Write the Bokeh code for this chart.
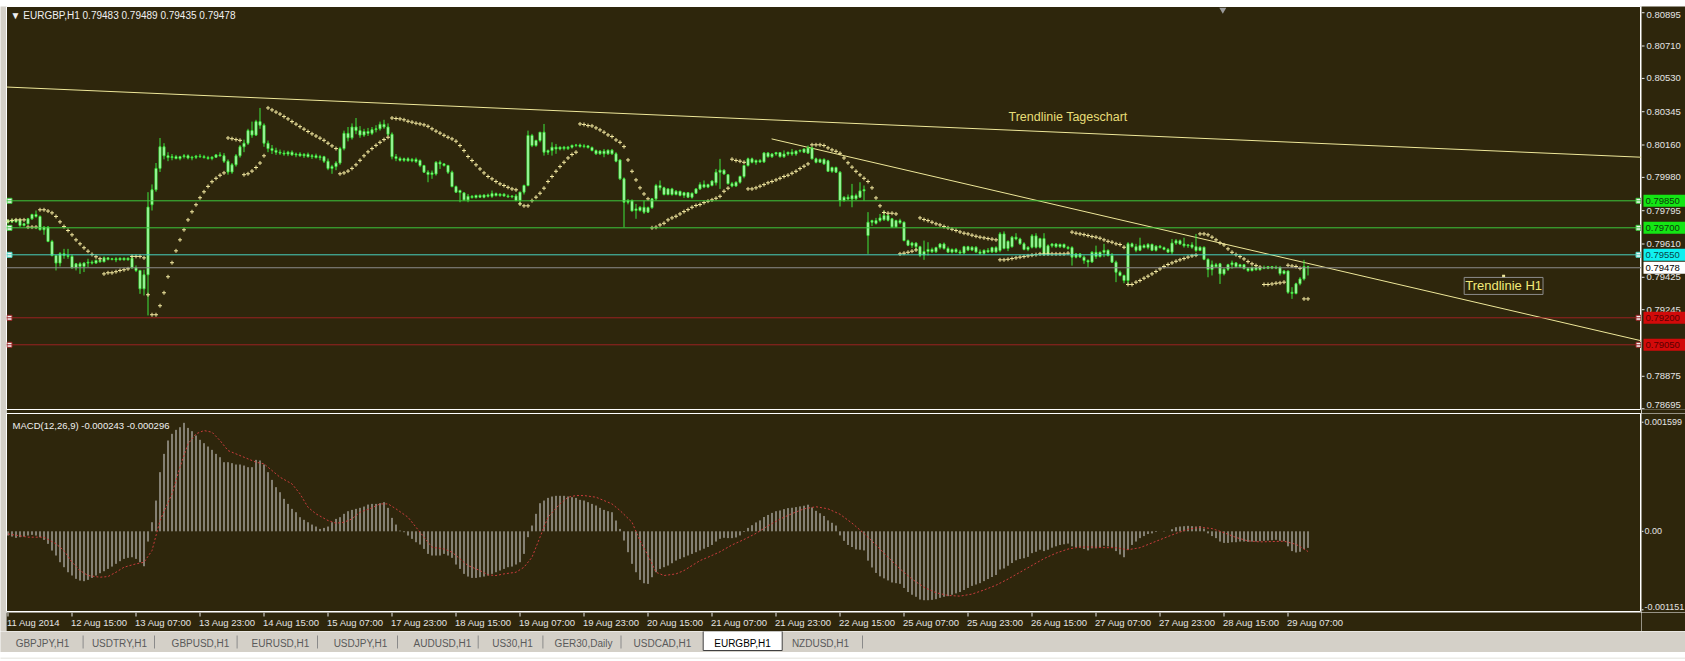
from bokeh.plotting import figure
from bokeh.models import Range1d, Label, Span
from bokeh.layouts import column, row
from bokeh.embed import file_html
from bokeh.resources import INLINE
from bokeh.core.properties import value

# ---------------- data (prices in 1e-5 units, MACD in 1e-6 units) ----------------
chart_title = "\u25bc EURGBP,H1  0.79483 0.79489 0.79435 0.79478"
macd_title = "MACD(12,26,9) -0.000243 -0.000296"

opens = [79731,79741,79733,79744,79713,79722,79750,79774,79763,79689,
 79704,79624,79546,79504,79556,79546,79541,79478,79500,79485,
 79504,79509,79504,79519,79511,79533,79524,79528,79522,79531,
 79522,79531,79478,79463,79361,79439,79828,79911,80030,80150,
 80100,80090,80095,80085,80095,80100,80088,80092,80098,80095,
 80090,80085,80092,80105,80100,80070,80010,80050,80100,80150,
 80170,80240,80215,80290,80270,80170,80140,80130,80120,80115,
 80110,80120,80105,80110,80100,80108,80095,80100,80090,80095,
 80070,80030,80040,80060,80140,80225,80200,80260,80240,80215,
 80235,80225,80245,80250,80275,80260,80220,80095,80085,80075,
 80083,80072,80080,80074,80046,80009,79996,79999,80064,80055,
 80046,80009,79929,79907,79894,79855,79875,79868,79880,79870,
 79882,79875,79890,79879,79887,79877,79872,79877,79852,79898,
 79935,80213,80157,80185,80231,80120,80129,80148,80138,80148,
 80140,80148,80158,80160,80152,80155,80146,80129,80111,80126,
 80111,80131,80111,80077,79972,79842,79851,79805,79796,79814,
 79787,79812,79861,79935,79922,79885,79916,79885,79903,79880,
 79895,79870,79892,79916,79940,79926,79935,79950,80009,80020,
 79995,79945,79932,79953,79985,80046,80083,80064,80074,80066,
 80116,80095,80110,80118,80095,80110,80120,80110,80126,80120,
 80115,80144,80083,80064,80080,80072,80014,80035,80009,79851,
 79870,79860,79879,79870,79905,79657,79731,79740,79740,79745,
 79768,79750,79705,79740,79731,79629,79603,79615,79595,79550,
 79568,79580,79567,79590,79610,79585,79565,79580,79566,79560,
 79595,79576,79592,79566,79558,79575,79566,79590,79574,79666,
 79585,79595,79648,79638,79611,79580,79592,79655,79592,79640,
 79552,79600,79610,79595,79608,79592,79590,79537,79555,79537,
 79518,79510,79564,79540,79564,79575,79546,79509,79453,79435,
 79407,79611,79595,79575,79601,79590,79608,79575,79598,79590,
 79580,79565,79615,79628,79610,79600,79605,79595,79574,79592,
 79525,79468,79495,79500,79444,79470,79495,79505,79484,79495,
 79474,79462,79480,79467,79480,79475,79484,79476,79481,79446,
 79460,79342,79335,79389,79416,79483]
highs = [79746,79750,79750,79750,79728,79755,79778,79796,79769,79709,
 79709,79633,79550,79565,79583,79583,79552,79504,79509,79509,
 79528,79519,79524,79524,79541,79537,79533,79537,79535,79535,
 79535,79546,79491,79467,79467,79898,79941,80060,80199,80170,
 80120,80110,80105,80100,80110,80108,80100,80105,80110,80105,
 80100,80098,80110,80120,80115,80080,80060,80110,80160,80190,
 80250,80290,80300,80366,80280,80185,80160,80145,80135,80130,
 80128,80130,80118,80120,80115,80118,80110,80112,80105,80100,
 80085,80050,80070,80150,80240,80260,80280,80310,80265,80250,
 80255,80260,80270,80290,80300,80280,80230,80110,80095,80090,
 80092,80088,80090,80080,80050,80020,80018,80070,80074,80060,
 80050,80018,79935,79912,79898,79888,79882,79884,79886,79886,
 79890,79907,79896,79892,79892,79886,79880,79888,79900,79940,
 80240,80222,80190,80231,80277,80135,80175,80166,80152,80155,
 80155,80162,80166,80168,80165,80160,80152,80135,80132,80138,
 80135,80138,80120,80080,79980,79860,79858,79833,79820,79851,
 79818,79865,79944,79963,79928,79920,79922,79910,79905,79900,
 79898,79896,79920,79953,79963,79945,79963,80027,80083,80025,
 79999,79955,79958,79990,80050,80090,80090,80080,80082,80120,
 80120,80115,80122,80120,80130,80122,80138,80130,80135,80140,
 80157,80150,80090,80085,80086,80078,80040,80040,80015,79875,
 79885,79944,79890,79953,79935,79787,79745,79755,79777,79796,
 79775,79755,79745,79750,79735,79635,79622,79620,79600,79629,
 79620,79590,79595,79615,79618,79596,79585,79588,79578,79600,
 79600,79598,79598,79580,79580,79588,79595,79598,79676,79680,
 79630,79655,79670,79645,79620,79598,79665,79670,79645,79670,
 79608,79615,79615,79612,79612,79600,79598,79560,79560,79546,
 79525,79570,79601,79568,79611,79580,79560,79518,79462,79440,
 79620,79618,79611,79645,79610,79615,79612,79603,79605,79596,
 79588,79638,79638,79635,79645,79610,79620,79666,79598,79596,
 79530,79518,79505,79505,79475,79500,79518,79510,79500,79498,
 79480,79485,79485,79485,79490,79488,79488,79490,79485,79466,
 79462,79370,79395,79426,79522,79489]
lows = [79722,79726,79728,79704,79707,79718,79744,79756,79685,79661,
 79620,79541,79463,79485,79528,79528,79472,79463,79444,79454,
 79481,79496,79500,79506,79509,79519,79519,79509,79519,79519,
 79519,79472,79454,79333,79324,79213,79796,79900,80010,80080,
 80070,80075,80080,80075,80085,80080,80075,80082,80088,80085,
 80078,80075,80088,80095,80060,79995,80000,80040,80090,80120,
 80160,80200,80210,80250,80150,80120,80110,80105,80105,80100,
 80098,80100,80092,80095,80088,80090,80082,80085,80075,80060,
 80020,80000,80020,80050,80130,80180,80190,80220,80200,80205,
 80210,80215,80230,80240,80250,80210,80080,80070,80068,80066,
 80068,80064,80060,80037,80005,79953,79972,79990,80027,80040,
 79999,79925,79895,79842,79850,79842,79862,79862,79866,79864,
 79868,79866,79874,79872,79872,79866,79864,79847,79824,79885,
 79930,80148,80150,80175,80101,80105,80101,80111,80130,80130,
 80132,80140,80148,80145,80142,80140,80125,80105,80105,80092,
 80105,80105,80064,79965,79703,79830,79790,79750,79790,79777,
 79782,79805,79851,79907,79880,79880,79878,79880,79875,79866,
 79865,79862,79888,79910,79920,79920,79930,79935,79916,79995,
 79940,79925,79928,79945,79975,80040,80058,80050,80060,80060,
 80090,80088,80100,80090,80088,80100,80100,80100,80118,80115,
 80110,80080,80058,80060,80050,80010,80005,80005,79818,79845,
 79855,79814,79855,79866,79851,79555,79710,79718,79731,79738,
 79735,79700,79700,79720,79625,79598,79588,79574,79537,79522,
 79546,79560,79560,79580,79578,79560,79558,79560,79552,79555,
 79570,79570,79560,79550,79552,79560,79560,79560,79564,79580,
 79570,79590,79630,79605,79575,79570,79585,79585,79585,79545,
 79548,79590,79588,79588,79586,79578,79490,79530,79532,79500,
 79481,79505,79527,79535,79537,79540,79505,79398,79430,79392,
 79388,79590,79564,79570,79585,79580,79570,79568,79585,79575,
 79560,79553,79605,79605,79590,79588,79583,79564,79570,79520,
 79425,79435,79478,79388,79435,79460,79472,79478,79478,79468,
 79455,79458,79462,79462,79470,79470,79470,79470,79435,79440,
 79333,79305,79330,79380,79407,79435]
closes = [79741,79733,79744,79713,79722,79750,79774,79763,79689,79704,
 79624,79546,79504,79556,79546,79541,79478,79500,79485,79504,
 79509,79504,79519,79511,79533,79524,79528,79522,79531,79522,
 79531,79478,79463,79361,79439,79815,79911,80030,80150,80100,
 80090,80095,80085,80095,80100,80088,80092,80098,80095,80090,
 80085,80092,80105,80100,80070,80010,80050,80100,80150,80170,
 80240,80215,80290,80270,80170,80140,80130,80120,80115,80110,
 80120,80105,80110,80100,80108,80095,80100,80090,80095,80070,
 80030,80040,80060,80140,80225,80200,80260,80240,80215,80235,
 80225,80245,80250,80275,80260,80220,80095,80085,80075,80083,
 80072,80080,80068,80046,80009,79996,80005,80064,80055,80046,
 80009,79929,79898,79896,79855,79875,79868,79880,79870,79882,
 79875,79890,79879,79887,79877,79872,79877,79852,79898,79935,
 80213,80157,80185,80231,80120,80129,80148,80138,80148,80140,
 80148,80158,80160,80152,80155,80146,80129,80111,80126,80111,
 80131,80111,80070,79972,79842,79851,79794,79796,79814,79787,
 79812,79861,79935,79922,79885,79916,79885,79903,79880,79895,
 79870,79892,79916,79940,79926,79940,79960,80009,80020,79999,
 79945,79932,79953,79985,80046,80083,80064,80074,80066,80116,
 80095,80110,80118,80095,80110,80120,80110,80126,80130,80138,
 80144,80083,80064,80080,80055,80014,80035,80009,79851,79870,
 79860,79879,79861,79905,79912,79731,79740,79725,79755,79768,
 79742,79705,79740,79728,79629,79603,79615,79595,79548,79568,
 79580,79567,79590,79610,79585,79565,79580,79566,79560,79595,
 79576,79592,79566,79558,79575,79566,79590,79566,79666,79585,
 79625,79648,79638,79611,79580,79592,79655,79592,79640,79552,
 79600,79610,79595,79608,79592,79585,79537,79555,79538,79518,
 79510,79564,79540,79564,79575,79546,79509,79453,79435,79407,
 79611,79595,79575,79601,79590,79608,79575,79598,79590,79580,
 79565,79615,79628,79610,79600,79605,79592,79574,79592,79525,
 79468,79495,79483,79444,79470,79495,79505,79484,79495,79474,
 79462,79480,79467,79480,79475,79484,79476,79481,79446,79460,
 79342,79335,79389,79416,79485,79478]
sar = [79737,79741,79744,79744,79744,79704,79704,79704,79800,79800,
 79793,79783,79763,79733,79707,79685,79661,79633,79611,79589,
 79570,79552,79539,79528,79444,79450,79450,79456,79463,79467,
 79472,79541,79541,79541,79533,79328,79217,79217,79267,79339,
 79428,79506,79572,79633,79689,79744,79789,79828,79867,79900,
 79930,79956,79975,79992,80005,80199,80195,80190,80186,79995,
 80000,80015,80035,80060,80100,80366,80355,80343,80332,80318,
 80305,80290,80276,80262,80248,80235,80222,80210,80198,80186,
 80170,80155,80140,80000,80005,80015,80030,80050,80075,80100,
 80122,80140,80158,80175,80190,80203,80310,80307,80305,80300,
 80292,80287,80281,80277,80272,80264,80250,80237,80226,80214,
 80203,80194,80181,80157,80129,80096,80074,80050,80027,80005,
 79985,79972,79957,79944,79935,79925,79916,79911,79833,79822,
 79822,79851,79870,79892,79920,79957,79985,80014,80040,80064,
 80088,80107,80120,80277,80274,80268,80266,80255,80244,80231,
 80216,80207,80188,80175,80151,80077,80014,79966,79922,79888,
 79861,79700,79703,79716,79725,79744,79755,79764,79777,79790,
 79801,79814,79824,79829,79840,79848,79855,79864,79875,79903,
 79920,80081,80074,80070,80064,79916,79916,79922,79931,79940,
 79950,79957,79966,79975,79985,79992,80003,80014,80029,80042,
 80055,80161,80161,80161,80157,80144,80133,80125,80114,80088,
 80061,80037,80014,79994,79975,79957,79922,79866,79822,79785,
 79781,79781,79777,79555,79559,79564,79570,79577,79755,79746,
 79740,79731,79722,79716,79707,79700,79692,79685,79677,79670,
 79666,79659,79653,79648,79644,79640,79637,79633,79522,79522,
 79525,79529,79533,79537,79540,79544,79548,79551,79555,79555,
 79555,79555,79555,79555,79555,79559,79676,79670,79666,79662,
 79657,79651,79648,79642,79633,79625,79620,79611,79607,79592,
 79385,79385,79398,79407,79420,79431,79444,79457,79472,79485,
 79496,79505,79514,79522,79529,79537,79544,79548,79666,79666,
 79661,79648,79633,79616,79605,79583,79564,79551,79540,79527,
 79512,79500,79490,79481,79385,79385,79388,79392,79394,79398,
 79492,79488,79485,79475,79305,79305]
macd = [-62,-77,-96,-86,-77,-62,-52,-62,-86,-126,
 -184,-282,-355,-453,-526,-600,-648,-697,-722,-731,
 -712,-683,-648,-614,-585,-551,-517,-477,-438,-404,
 -389,-380,-404,-453,-512,-150,133,451,867,1135,
 1331,1429,1487,1526,1590,1516,1468,1404,1341,1292,
 1243,1194,1135,1086,1013,1013,999,979,979,964,
 940,940,1047,1038,979,867,754,647,573,476,
 402,329,280,207,168,133,99,70,35,50,
 70,133,182,207,256,295,314,329,344,363,
 392,402,402,412,427,344,197,99,11,-13,
 -62,-111,-160,-194,-258,-331,-355,-355,-355,-331,
 -355,-389,-487,-551,-624,-663,-683,-683,-673,-663,
 -648,-624,-600,-575,-551,-526,-517,-487,-453,-331,
 -86,85,256,412,451,490,510,520,520,520,
 510,500,490,461,451,427,402,378,344,314,
 295,280,158,35,-135,-306,-477,-600,-712,-761,
 -771,-673,-600,-551,-526,-502,-468,-429,-404,-380,
 -355,-331,-306,-280,-255,-230,-200,-150,-110,-95,
 -100,-100,-90,-60,-10,50,90,130,160,210,
 240,270,295,305,325,340,345,355,365,375,
 390,350,300,265,225,160,125,85,-60,-140,
 -200,-230,-265,-270,-280,-430,-530,-610,-660,-690,
 -720,-750,-760,-770,-830,-890,-930,-960,-1000,-1010,
 -1010,-1005,-995,-975,-960,-950,-930,-910,-890,-860,
 -830,-800,-780,-760,-730,-700,-670,-640,-560,-545,
 -505,-465,-425,-405,-395,-375,-320,-300,-270,-290,
 -270,-240,-220,-200,-190,-180,-220,-230,-240,-260,
 -280,-250,-250,-230,-210,-220,-240,-290,-340,-380,
 -270,-200,-150,-100,-70,-40,-30,-10,0,5,
 0,30,60,70,75,80,75,70,75,40,
 -30,-70,-100,-150,-170,-170,-160,-160,-150,-150,
 -155,-150,-150,-145,-140,-135,-130,-125,-140,-145,
 -220,-290,-310,-300,-260,-243]
signal_idx = [0,5,9,12,14,16,18,20,23,25,27,29,32,34,36,38,41,43,45,47,49,51,53,55,57,60,62,64,66,68,
 71,73,75,77,80,82,84,86,88,91,93,95,97,100,102,104,106,109,111,113,115,118,120,122,124,127,129,131,133,135,
 138,140,142,144,147,149,151,153,156,158,160,162,164,167,169,171,173,175,178,181,184,187,190,193,196,199,202,205,208,211,
 214,217,220,223,226,229,232,235,238,241,244,247,250,253,256,259,262,265,268,271,274,277,280,283,286,289,292,295,298,301,
 304,307,310,313,316,319,322,325]
signal_val = [-38,-86,-86,-184,-282,-453,-575,-648,-673,-663,-600,-526,-477,-453,-282,158,549,940,1282,1429,1477,1453,1331,1184,1135,1062,1013,989,891,793,
 695,549,353,256,158,119,133,182,280,344,402,402,329,207,60,-86,-233,-258,-306,-404,-502,-575,-639,-648,-624,-600,-526,-380,-86,207,
 402,500,524,524,500,451,402,305,133,-135,-355,-600,-648,-624,-575,-502,-429,-380,-300,-200,-120,-30,80,180,260,330,360,330,250,120,
 -30,-200,-380,-550,-700,-820,-900,-940,-950,-920,-860,-790,-700,-600,-500,-400,-320,-260,-230,-230,-240,-240,-270,-240,-170,-100,-30,30,60,40,
 -20,-90,-140,-155,-150,-145,-190,-296]

price_ticks = [0.80895, 0.80710, 0.80530, 0.80345, 0.80160, 0.79980, 0.79795,
               0.79610, 0.79425, 0.79245, 0.78875, 0.78695]
level_prices = [0.79850, 0.79700, 0.79550, 0.79200, 0.79050]
bid_price = 0.79478
macd_ticks = [0.001599, 0.0, -0.001151]
macd_tick_labels = ["0.001599", "0.00", "-0.001151"]
date_ticks = [0, 16, 32, 48, 64, 80, 96, 112, 128, 144, 160, 176, 192, 208, 224, 240, 256, 272, 288, 304, 320]
date_labels = ["11 Aug 2014", "12 Aug 15:00", "13 Aug 07:00", "13 Aug 23:00", "14 Aug 15:00",
               "15 Aug 07:00", "17 Aug 23:00", "18 Aug 15:00", "19 Aug 07:00", "19 Aug 23:00",
               "20 Aug 15:00", "21 Aug 07:00", "21 Aug 23:00", "22 Aug 15:00", "25 Aug 07:00",
               "25 Aug 23:00", "26 Aug 15:00", "27 Aug 07:00", "27 Aug 23:00", "28 Aug 15:00",
               "29 Aug 07:00"]
trend_day_x = [-0.35, 408.4]
trend_day_y = [0.80482, 0.80092]
trend_h1_x = [190.9, 408.4]
trend_h1_y = [0.80194, 0.79072]
tab_names = ["GBPJPY,H1", "USDTRY,H1", "GBPUSD,H1", "EURUSD,H1", "USDJPY,H1", "AUDUSD,H1",
             "US30,H1", "GER30,Daily", "USDCAD,H1", "EURGBP,H1", "NZDUSD,H1"]

# ---------------- styling ----------------
FONT = "Liberation Sans"
BG = "#2E260C"
WIN = "#D4D0C8"
CANDLE = "#3CE63C"
SARC = "#F2E8A0"
TREND = "#EFE89A"
AXTXT = "#E4E4E4"
level_line_colors = ["#3CC83C", "#3CC83C", "#48D2C0", "#9A2222", "#9A2222"]
label_bg = ["#14E614", "#14E614", "#10F0F0", "#D20A0A", "#D20A0A"]
label_fg = ["#0B3A0B", "#0B3A0B", "#0A4646", "#5A0000", "#5A0000"]

LEFT_W = 6
FRAME_W = 1635
SIDE_W = 44
TOTAL_W = LEFT_W + FRAME_W + SIDE_W
x_start = -0.375
x_end = x_start + FRAME_W / 4.0

idx = list(range(len(closes)))
o = [v / 1e5 for v in opens]
h = [v / 1e5 for v in highs]
l = [v / 1e5 for v in lows]
c = [v / 1e5 for v in closes]
s = [v / 1e5 for v in sar]
mv = [v / 1e6 for v in macd]
sv = [v / 1e6 for v in signal_val]


def panel(fw, fh, xr, yr, bottom=0, outline="white", bg=BG):
    f = figure(frame_width=fw, frame_height=fh, x_range=xr, y_range=yr,
               x_axis_location=None, y_axis_location=None,
               output_backend="svg", toolbar_location=None,
               min_border_left=0, min_border_top=0, min_border_bottom=bottom, min_border_right=0,
               background_fill_color=bg, border_fill_color=bg,
               outline_line_color=outline, outline_line_width=1)
    f.grid.visible = False
    return f


# ---------------- window frame strips ----------------
top_strip = panel(TOTAL_W, 6, Range1d(0, 1), Range1d(0, 1), outline=None, bg="#DCDAD4")
left_strip = panel(LEFT_W, 407 + 199 + 19, Range1d(0, 1), Range1d(0, 1), outline=None, bg=WIN)
bottom_strip = panel(TOTAL_W, 7, Range1d(0, 1), Range1d(0, 1), outline=None, bg="#ECEBE7")

# ---------------- main price panel ----------------
p = panel(FRAME_W, 403, Range1d(x_start, x_end), Range1d(0.786905, 0.809295), bottom=4)
for price, col in zip(level_prices, level_line_colors):
    p.add_layout(Span(location=price, dimension="width", line_color=col, line_width=1))
p.add_layout(Span(location=bid_price, dimension="width", line_color="#8C8C8C", line_width=1))

p.line(trend_day_x, trend_day_y, line_color=TREND, line_width=1)
p.line(trend_h1_x, trend_h1_y, line_color=TREND, line_width=1)

p.segment(x0=idx, y0=l, x1=idx, y1=h, line_color=CANDLE, line_width=1)
p.vbar(x=idx, width=0.5, top=[max(a, b) for a, b in zip(o, c)], bottom=[min(a, b) for a, b in zip(o, c)],
       fill_color="#E6FFE6", line_color=CANDLE, line_width=1)
p.scatter(x=idx, y=s, marker="cross", size=4, line_color=SARC, line_width=1)

sq_x = [x_start + 0.75] * len(level_prices) + [x_end - 0.75] * len(level_prices)
p.scatter(x=sq_x, y=level_prices * 2, marker="square", size=5,
          fill_color="#F4F4F4", line_color=level_line_colors * 2, line_width=1)
p.scatter(x=[303.7], y=[0.80912], marker="inverted_triangle", size=7, fill_color="#9A9A9A", line_color=None)

p.add_layout(Label(x=0.65, y=0.80880, text=chart_title, text_font=FONT, text_font_size="10px",
                   text_color="#F0F0F0", text_baseline="middle", text_align="left"))
p.add_layout(Label(x=265, y=0.80318, text="Trendlinie Tageschart", text_font=FONT, text_font_size="12.5px",
                   text_color="#E8DE78", text_baseline="middle", text_align="center"))
p.add_layout(Label(x=373.9, y=0.79377, text="Trendlinie H1", text_font=FONT, text_font_size="13px",
                   text_color="#F2EA7A", text_baseline="middle", text_align="center",
                   border_line_color="#8C8C8C", border_line_width=1, padding=1))
p.scatter(x=[373.9], y=[0.79431], marker="square", size=3, fill_color=TREND, line_color=None)

# price scale at the right
pr = panel(SIDE_W, 403, Range1d(0, SIDE_W), p.y_range, bottom=4, outline=None)
pr.segment(x0=[0] * len(price_ticks), y0=price_ticks, x1=[3] * len(price_ticks), y1=price_ticks,
           line_color=AXTXT, line_width=1)
tick_dy = [2] + [0] * (len(price_ticks) - 2) + [-4]
pr.text(x=[5] * len(price_ticks), y=price_ticks, text=["%.5f" % v for v in price_ticks],
        text_font=value(FONT), text_font_size="9.5px", text_color=AXTXT, y_offset=tick_dy,
        text_baseline="middle", text_align="left")
box_prices = level_prices[:3] + [bid_price] + level_prices[3:]
box_bg = label_bg[:3] + ["#FFFFFF"] + label_bg[3:]
box_fg = label_fg[:3] + ["#000000"] + label_fg[3:]
pr.rect(x=[23] * len(box_prices), y=box_prices, width=42, height=12, height_units="screen",
        fill_color=box_bg, line_color=None)
pr.text(x=[4] * len(box_prices), y=box_prices, text=["%.5f" % v for v in box_prices],
        text_font=value(FONT), text_font_size="9.5px", text_color=box_fg,
        text_baseline="middle", text_align="left")

# ---------------- MACD panel ----------------
m = panel(FRAME_W, 199, p.x_range, Range1d(-0.00119, 0.001727))
m.segment(x0=idx, y0=[0.0] * len(idx), x1=idx, y1=mv, line_color="#DADADA", line_width=1)
m.line(signal_idx, sv, line_color="#C83C3C", line_width=1, line_dash="2 2")
m.add_layout(Label(x=1.15, y=0.00155, text=macd_title, text_font=FONT, text_font_size="9.5px",
                   text_color="#F0F0F0", text_baseline="middle", text_align="left"))

mr = panel(SIDE_W, 199, Range1d(0, SIDE_W), m.y_range, outline=None)
mr.segment(x0=[0] * 3, y0=macd_ticks, x1=[2] * 3, y1=macd_ticks, line_color=AXTXT, line_width=1)
mr.text(x=[3] * 3, y=macd_ticks, text=macd_tick_labels, text_font=value(FONT), text_font_size="9px",
        text_color=AXTXT, text_baseline="middle", text_align="left", y_offset=[0, 0, -3])

# ---------------- time axis strip ----------------
d = panel(FRAME_W, 19, p.x_range, Range1d(0, 19), outline=None)
d.segment(x0=date_ticks, y0=[15] * len(date_ticks), x1=date_ticks, y1=[19] * len(date_ticks),
          line_color=AXTXT, line_width=1)
d.text(x=date_ticks, y=[9] * len(date_ticks), text=date_labels, text_font=value(FONT),
       text_font_size="9.5px", text_color=AXTXT, text_baseline="middle", text_align="left", x_offset=-1)
dr = panel(SIDE_W, 19, Range1d(0, SIDE_W), Range1d(0, 19), outline=None)

# ---------------- symbol tabs ----------------
tab_x = [42, 119, 200, 280, 360, 442, 512, 583, 662, 742, 820]
sep_x = [82.6, 154, 236.6, 317, 397, 477.7, 542.4, 620.5, 862]
t = panel(TOTAL_W, 21, Range1d(0, TOTAL_W), Range1d(0, 21), outline=None, bg=WIN)
t.quad(left=[702.7], right=[781.7], bottom=[2], top=[21.5], fill_color="#FFFFFF", line_color="#404040")
t.segment(x0=sep_x, y0=[4] * len(sep_x), x1=sep_x, y1=[17] * len(sep_x), line_color="#8A8A8A", line_width=1)
t.text(x=tab_x, y=[9] * len(tab_x), text=tab_names, text_font=value(FONT), text_font_size="10px",
       text_color=["#5A5A5A"] * 9 + ["#000000", "#5A5A5A"], text_align="center", text_baseline="middle")

charts = column(row(p, pr, spacing=0), row(m, mr, spacing=0), row(d, dr, spacing=0), spacing=0)
layout = column(top_strip, row(left_strip, charts, spacing=0), t, bottom_strip, spacing=0)
open("out.html", "w").write(file_html(layout, INLINE))
